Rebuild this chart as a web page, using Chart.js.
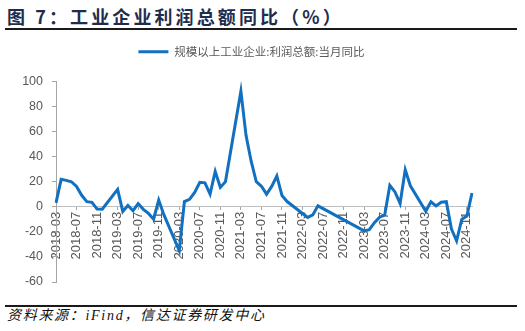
<!DOCTYPE html>
<html>
<head>
<meta charset="utf-8">
<script src="https://cdn.jsdelivr.net/npm/chart.js@4.4.1/dist/chart.umd.min.js"></script>
<style>
  body { margin: 0; background: #fff; width: 525px; height: 331px; position: relative; overflow: hidden; }
  #title {
    position: absolute; left: 7px; top: 6px;
    font: bold 18px "Noto Sans CJK SC", sans-serif; line-height: 20px;
    letter-spacing: 3.1px; color: #1f2d4d; white-space: nowrap;
  }
  .rule { position: absolute; left: 5px; width: 512px; height: 2px; background: #1a1a1a; }
  #source {
    position: absolute; left: 7px; top: 307px;
    font: italic 14px "Liberation Serif", "Noto Sans CJK SC", serif; line-height: 18px;
    letter-spacing: 1.7px; color: #111; white-space: nowrap;
  }
  #chart { position: absolute; left: 0; top: 36px; }
</style>
</head>
<body>
<div id="title">图 7：工业企业利润总额同比（%）</div>
<div class="rule" style="top:28px"></div>
<canvas id="chart" width="525" height="264"></canvas>
<div class="rule" style="top:305px"></div>
<div id="source">资料来源：iFind，信达证券研发中心</div>
<script>
const seriesName = "规模以上工业企业:利润总额:当月同比";

// months 2018-03 .. 2024-12
const months = [];
for (let y = 2018; y <= 2024; y++) {
  for (let m = 1; m <= 12; m++) {
    if (y === 2018 && m < 3) continue;
    months.push(y + "-" + String(m).padStart(2, "0"));
  }
}

// null = no value for that month (line spans the gap)
const v2018 = [3.1, 21.9, 21.1, 20.0, 16.2, 9.2, 4.1, 3.6, -1.8, -1.9]; // Mar-Dec
const v2019 = [null, null, 13.9, -3.7, 1.1, -3.1, 2.6, -2.0, -5.3, -9.9, 5.4, -6.3];
const v2020 = [null, null, -34.9, 4.2, 6.0, 11.5, 19.6, 19.1, 10.1, 28.2, 15.5, 20.1];
const v2021 = [null, null, 92.3, 57.0, 36.4, 20.0, 16.4, 10.1, 16.3, 24.6, 9.0, 4.2];
const v2022 = [null, null, null, -8.5, -6.5, 0.8, null, null, null, null, null, null];
const v2023 = [null, null, -19.2, -18.2, -12.6, -8.3, -6.7, 17.2, 11.9, 2.7, 29.5, 16.8];
const v2024 = [null, null, -3.5, 4.0, 0.7, 3.6, 4.1, -17.8, -27.1, -10.0, -7.3, 11.0];

const values = [].concat(v2018, v2019, v2020, v2021, v2022, v2023, v2024);

const lineColor = "#1170c0";
const textColor = "#595959";
const axisColor = "#a6a6a6";

// extra space under the legend, and legend centred a bit right of the canvas middle
const legendTweak = {
  id: "legendTweak",
  beforeInit(chart) {
    const fit = chart.legend.fit;
    chart.legend.fit = function () {
      fit.bind(chart.legend)();
      this.height += 14;
    };
  },
  afterLayout(chart) {
    chart.legend.left = 31;
  },
};

new Chart(document.getElementById("chart"), {
  type: "line",
  data: {
    labels: months,
    datasets: [
      {
        label: seriesName,
        data: values,
        borderColor: lineColor,
        backgroundColor: lineColor,
        borderWidth: 3,
        pointRadius: 0,
        tension: 0,
        spanGaps: true,
      },
    ],
  },
  options: {
    responsive: false,
    animation: false,
    devicePixelRatio: 1,
    layout: { padding: { left: 0, right: 53, top: 0, bottom: 18 } },
    plugins: {
      tooltip: { enabled: false },
      legend: {
        position: "top",
        labels: {
          boxWidth: 30,
          boxHeight: 3,
          padding: 10,
          color: textColor,
          font: { family: "'Noto Sans CJK SC', sans-serif", size: 11.5 },
          generateLabels: (chart) =>
            Chart.defaults.plugins.legend.labels
              .generateLabels(chart)
              .map((l) => ({ ...l, fillStyle: lineColor, strokeStyle: lineColor, lineWidth: 0 })),
        },
      },
    },
    scales: {
      x: {
        position: { y: 0 },
        grid: {
          drawOnChartArea: false,
          tickLength: 3,
          tickColor: (ctx) => (ctx.index % 4 === 0 ? axisColor : "transparent"),
        },
        border: { color: "#bfbfbf", width: 1 },
        ticks: {
          autoSkip: false,
          maxRotation: 90,
          minRotation: 90,
          padding: 2,
          color: textColor,
          font: { family: "'Liberation Sans', Arial, sans-serif", size: 13 },
          callback: (value, index) => (index % 4 === 0 ? months[index] : ""),
        },
      },
      y: {
        min: -60,
        max: 100,
        afterFit: (scale) => { scale.width = 56; },
        grid: { drawOnChartArea: false, tickLength: 4, tickColor: axisColor },
        border: { color: axisColor, width: 1 },
        ticks: {
          stepSize: 20,
          padding: 9,
          color: textColor,
          font: { family: "'Liberation Sans', Arial, sans-serif", size: 12.5 },
        },
      },
    },
  },
  plugins: [legendTweak],
});
</script>
</body>
</html>
